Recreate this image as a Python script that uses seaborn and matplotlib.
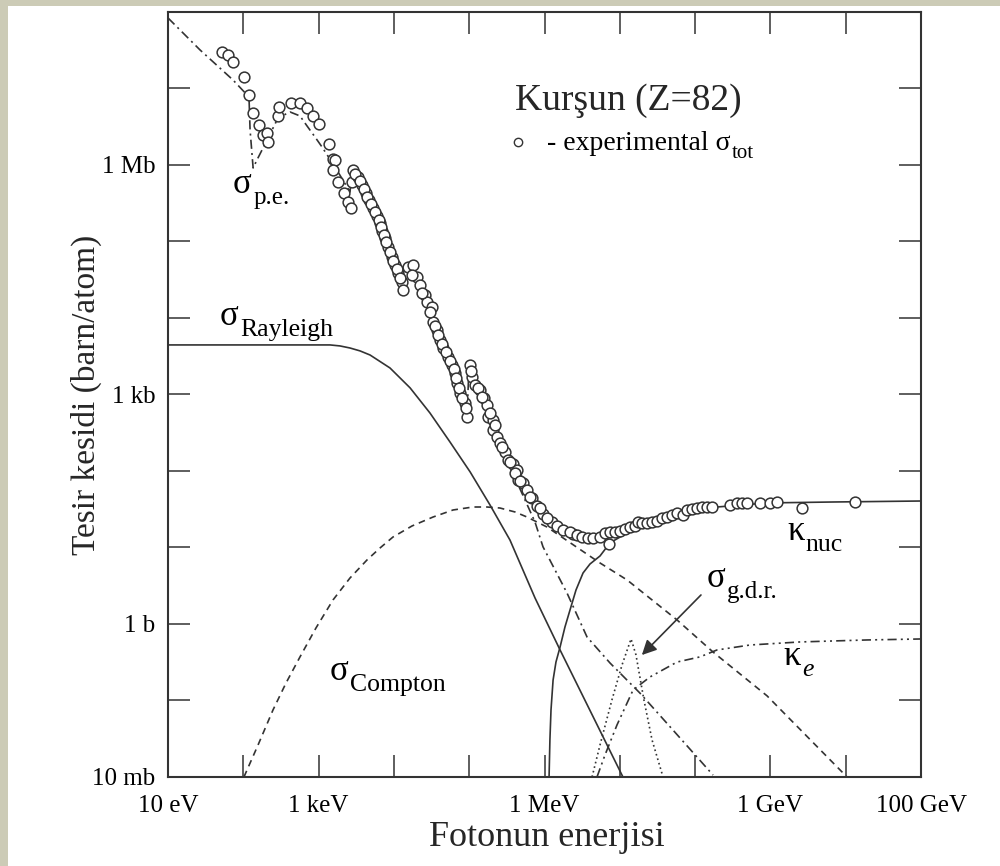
import numpy as np
import matplotlib
matplotlib.use("Agg")
import matplotlib.pyplot as plt
import matplotlib.ticker as mticker
from matplotlib.patches import Rectangle
import seaborn as sns

sns.set_theme(style="ticks")
plt.rcParams["font.family"] = ["Liberation Serif", "DejaVu Serif"]

INK = "#333333"

# --- experimental total cross section (circles), E in eV, sigma in barn ---
tot_E = [52, 63, 73, 102, 119, 135, 162, 183, 207, 213, 289, 298, 430, 566, 701,
         843, 1012, 1374, 1553, 1651, 1553, 1811, 2175, 2455, 2692, 2862, 2775,
         3335, 3767, 4256, 4667, 5272, 5966, 6536, 6950, 7621, 8356, 9441,
         1.035e4, 1.133e4, 1.281e4, 1.321e4, 1.538e4, 1.794e4, 2.027e4, 2.223e4,
         2.589e4, 2.754e4, 3.209e4, 3.306e4, 3.735e4, 4.09e4, 4.49e4, 5.23e4,
         5.91e4, 6.48e4, 6.89e4, 7.55e4, 8.80e4, 9.35e4, 1.025e5, 1.089e5,
         1.194e5, 1.39e5, 1.57e5, 1.72e5, 1.78e5, 2.07e5, 2.07e5, 2.34e5, 2.56e5,
         2.99e5, 3.27e5, 3.82e5, 4.31e5, 4.45e5, 5.18e5, 5.86e5, 6.82e5, 7.95e5,
         9.55e5, 1.26e6,
         3.04e3, 3.55e3, 4.01e3, 4.40e3, 4.97e3, 5.61e3, 6.34e3, 6.75e3, 7.40e3,
         7.85e3, 8.87e3, 9.73e3, 1.10e4, 1.21e4, 1.74e4, 2.36e4, 3.01e4, 3.51e4,
         3.85e4, 4.35e4, 4.92e4, 5.56e4, 6.28e4, 6.68e4, 7.32e4, 8.02e4, 9.08e4,
         1.06e5, 1.31e5, 1.48e5, 1.89e5, 2.20e5, 2.73e5, 3.48e5, 4.06e5, 4.73e5,
         6.41e5, 8.71e5, 1.08e6, 1.47e6, 2.39e6,
         1.76e6, 2.18e6, 2.70e6, 3.15e6, 3.78e6, 4.41e6, 5.46e6, 6.36e6, 7.19e6,
         7.41e6, 8.63e6, 1.01e7, 1.17e7, 1.37e7, 1.59e7, 1.75e7, 1.97e7, 2.30e7,
         2.68e7, 3.12e7, 3.63e7, 4.24e7, 4.93e7, 5.75e7, 6.91e7, 7.80e7, 9.10e7,
         1.06e8, 1.24e8, 1.44e8, 1.68e8, 2.91e8, 3.60e8, 4.20e8, 4.89e8, 7.27e8,
         9.88e8, 1.22e9, 2.63e9, 1.33e10]
tot_sigma = [3.0e7, 2.74e7, 2.22e7, 1.41e7, 8.22e6, 4.79e6, 3.33e6, 2.47e6, 2.62e6,
             2.0e6, 4.37e6, 5.73e6, 6.46e6, 6.46e6, 5.56e6, 4.37e6, 3.44e6, 1.88e6,
             1.20e6, 1.16e6, 8.61e5, 6.0e5, 4.31e5, 3.28e5, 2.74e5, 8.61e5, 6.0e5,
             6.97e5, 5.48e5, 4.31e5, 3.49e5, 2.74e5, 2.15e5, 1.75e5, 1.37e5, 1.11e5,
             8.47e4, 6.27e4, 4.93e4, 3.87e4, 2.96e4, 2.32e4, 4.64e4, 4.93e4, 3.44e4,
             2.70e4, 2.0e4, 1.62e4, 1.39e4, 8.87e3, 6.97e3, 5.15e3, 4.05e3, 3.09e3,
             2.43e3, 1.91e3, 1.41e3, 1.05e3, 774, 508, 2.43e3, 1.69e3, 1.33e3,
             1.15e3, 900, 729, 508, 464, 344, 278, 232, 177, 139, 124, 103, 76.3,
             69.7, 56.5, 44.4, 34.9, 27.4, 21.5,
             7.62e5, 6.18e5, 4.86e5, 3.82e5, 3.09e5, 2.43e5, 1.91e5, 1.55e5, 1.22e5,
             9.85e4, 7.29e4, 5.56e4, 4.37e4, 3.34e4, 3.65e4, 2.12e4, 1.20e4, 7.85e3,
             6.0e3, 4.57e3, 3.60e3, 2.74e3, 2.15e3, 1.64e3, 1.22e3, 900, 667,
             2.03e3, 1.22e3, 927, 573, 399, 206, 131, 94.2, 74.0,
             45.7, 32.8, 24.3, 19.1, 15.0,
             16.9, 16.0, 14.6, 13.7, 13.3, 13.3, 13.7, 15.5, 11.1, 16.0, 16.0, 16.4,
             17.5, 18.5, 19.1, 21.5, 20.9, 20.9, 21.5, 22.2, 24.3, 25.0, 26.6, 28.2,
             26.6, 30.9, 31.9, 32.8, 33.8, 33.8, 33.8, 35.9, 38.2, 38.2, 38.2, 38.2,
             38.2, 39.3, 32.8, 39.3]

# --- photoelectric ---
pe_E = [10, 26.6, 73, 119, 123, 135, 157, 207, 289, 417, 566, 701, 896, 1109, 1651,
        2612, 2780, 3335, 4256, 5272, 6536, 8356, 1.10e4, 1.28e4, 1.36e4, 1.79e4,
        2.22e4, 2.75e4, 3.31e4, 4.09e4, 5.23e4, 6.48e4, 7.55e4, 8.80e4, 9.35e4,
        9.94e4, 1.19e5, 1.57e5, 1.89e5, 2.34e5, 2.99e5, 4.06e5, 5.51e5, 7.48e5,
        9.55e5, 1.99e6, 3.67e6, 7.41e6, 1.85e7, 5.08e7, 1.73e8]
pe_sigma = [8.35e7, 3.19e7, 1.29e7, 7.74e6, 2.87e6, 9.14e5, 1.24e6, 2.12e6, 4.11e6,
            4.93e6, 4.37e6, 3.24e6, 2.32e6, 1.72e6, 9.42e5, 4.44e5, 8.10e5, 6.76e5,
            4.18e5, 2.66e5, 1.69e5, 8.22e4, 4.24e4, 2.47e4, 4.51e4, 4.79e4, 2.62e4,
            1.57e4, 9.42e3, 5.15e3, 3.00e3, 1.80e3, 1.02e3, 707, 493, 2.36e3, 1.29e3,
            847, 464, 254, 148, 81.0, 41.8, 21.5, 10.2, 2.54, 0.676, 0.309, 0.125,
            0.0411, 0.0106]

# --- Rayleigh (coherent) ---
ray_E = [10, 1.42e3, 1.92e3, 2.61e3, 3.55e3, 4.82e3, 8.87e3, 1.64e4, 3.01e4,
         5.56e4, 1.03e5, 1.89e5, 3.48e5, 7.48e5, 1.61e6, 1.10e7]
ray_sigma = [4.44e3, 4.44e3, 4.31e3, 4.05e3, 3.71e3, 3.28e3, 2.22e3, 1.22e3, 573,
             239, 97.0, 35.9, 12.5, 2.19, 0.457, 0.01]

# --- Compton (incoherent) ---
comp_E = [102, 157, 248, 369, 566, 923, 1553, 2612, 4395, 6536, 9727, 1.74e4,
          3.31e4, 6.10e4, 1.12e5, 1.72e5, 2.56e5, 4.06e5, 5.86e5, 1.08e6, 5.46e6,
          1.25e7, 5.75e7, 1.73e8, 9.02e8, 1.04e10]
comp_sigma = [0.01, 0.0262, 0.0752, 0.169, 0.371, 0.887, 2.06, 3.99, 6.87, 9.84,
              13.7, 19.1, 25.0, 30.9, 33.8, 33.8, 32.8, 29.1, 25.0, 18.5, 6.27,
              3.76, 1.13, 0.430, 0.115, 0.01]

# --- pair production, nuclear field ---
nuc_E = [1.15e6, 1.18e6, 1.22e6, 1.30e6, 1.42e6, 1.61e6, 1.87e6, 2.18e6, 2.62e6,
         3.25e6, 4.02e6, 5.46e6, 7.41e6, 1.01e7, 1.59e7, 2.52e7, 6.91e7, 1.95e8,
         9.02e8, 6.78e9, 1.03e11]
nuc_sigma = [0.01, 0.0305, 0.0752, 0.185, 0.318, 0.500, 0.914, 1.52, 2.78, 4.64,
             6.08, 7.74, 11.5, 13.7, 18.0, 21.5, 29.1, 33.8, 38.2, 39.3, 40.5]

# --- pair production, electron field ---
ke_E = [4.98e6, 6.36e6, 9.18e6, 1.50e7, 2.52e7, 5.75e7, 1.16e8, 1.95e8, 5.36e8,
        2.47e9, 1.92e10, 1.03e11]
ke_sigma = [0.01, 0.0194, 0.0479, 0.137, 0.203, 0.318, 0.371, 0.457, 0.531, 0.582,
            0.618, 0.637]

# --- giant dipole resonance ---
gdr_E = [4.28e6, 5.46e6, 7.87e6, 1.07e7, 1.41e7, 1.64e7, 2.09e7, 2.68e7, 3.75e7]
gdr_sigma = [0.01, 0.0262, 0.102, 0.291, 0.637, 0.394, 0.102, 0.0305, 0.01]

x_ticks = [1e1, 1e2, 1e3, 1e4, 1e5, 1e6, 1e7, 1e8, 1e9, 1e10, 1e11]
x_ticklabels = ["10 eV", "", "1 keV", "", "", "1 MeV", "", "", "1 GeV", "", "100 GeV"]
y_ticks = [1e-2, 1e-1, 1e0, 1e1, 1e2, 1e3, 1e4, 1e5, 1e6, 1e7, 1e8]
y_ticklabels = ["10 mb", "", "1 b", "", "", "1 kb", "", "", "1 Mb", "", ""]

fig = plt.figure(figsize=(10, 8.66), dpi=100, facecolor="#cccbb6")
fig.patches.append(Rectangle((0.008, 0), 0.992, 1 - 6 / 866, transform=fig.transFigure,
                             facecolor="white", edgecolor="none", zorder=-5))
ax = fig.add_axes([0.168, 0.1028, 0.753, 0.8834])
ax.set_facecolor("white")
ax.set_xscale("log")
ax.set_yscale("log")

lw = 1.2
sns.lineplot(x=pe_E, y=pe_sigma, ax=ax, sort=False, estimator=None, color=INK,
             lw=lw, linestyle=(0, (5.5, 2.5, 1.2, 2.5)))
sns.lineplot(x=ray_E, y=ray_sigma, ax=ax, sort=False, estimator=None, color=INK, lw=lw)
sns.lineplot(x=comp_E, y=comp_sigma, ax=ax, sort=False, estimator=None, color=INK,
             lw=lw, linestyle=(0, (4, 3)))
sns.lineplot(x=nuc_E, y=nuc_sigma, ax=ax, sort=False, estimator=None, color=INK, lw=lw)
sns.lineplot(x=ke_E, y=ke_sigma, ax=ax, sort=False, estimator=None, color=INK,
             lw=lw, linestyle=(0, (5.5, 2.5, 1.2, 2.5, 1.2, 2.5)))
sns.lineplot(x=gdr_E, y=gdr_sigma, ax=ax, sort=False, estimator=None, color=INK,
             lw=lw, linestyle=(0, (1, 1.8)))
sns.scatterplot(x=tot_E, y=tot_sigma, ax=ax, marker="o", s=60, color="white",
                edgecolor=INK, linewidth=1.1, zorder=5)

ax.set_xlim(1e1, 1e11)
ax.set_ylim(1e-2, 1e8)
ax.xaxis.set_major_locator(mticker.FixedLocator(x_ticks))
ax.xaxis.set_major_formatter(mticker.FixedFormatter(x_ticklabels))
ax.yaxis.set_major_locator(mticker.FixedLocator(y_ticks))
ax.yaxis.set_major_formatter(mticker.FixedFormatter(y_ticklabels))
ax.xaxis.set_minor_locator(mticker.NullLocator())
ax.yaxis.set_minor_locator(mticker.NullLocator())
ax.tick_params(which="major", direction="in", length=16, width=1.1, color=INK,
               top=True, right=True, labelsize=18, labelcolor="black")
ax.tick_params(axis="x", pad=13)
ax.tick_params(axis="y", pad=9)
for s in ax.spines.values():
    s.set_visible(True)
    s.set_linewidth(1.5)
    s.set_color(INK)

ax.set_xlabel("Fotonun enerjisi", fontsize=26)
ax.xaxis.set_label_coords(0.503, -0.057)
ax.set_ylabel("Tesir kesidi (barn/atom)", fontsize=24)
ax.yaxis.set_label_coords(-0.088, 0.5)


def sym_label(x, y, main, sub, size=25, subsize=18, drop=-6, style="normal"):
    # main symbol in data coords, subscript placed right after its bounding box
    t = ax.text(x, y, main, fontsize=size, color="black")
    ax.annotate(sub, xy=(1, 0), xycoords=t, xytext=(1, drop),
                textcoords="offset points", fontsize=subsize, style=style,
                va="bottom", ha="left", color="black")
    return t


# labels
ax.text(4.06e5, 5.24e6, "Kurşun (Z=82)", fontsize=27)
ax.plot([4.45e5], [2.0e6], marker="o", ms=6, mfc="white", mec=INK, mew=1.0)
sym_label(1.08e6, 1.57e6, "- experimental σ", "tot", size=20, subsize=15, drop=-5)
sym_label(73, 4.3e5, "σ", "p.e.", subsize=18)
sym_label(49, 8.1e3, "σ", "Rayleigh", subsize=18.5)
sym_label(1.42e3, 0.185, "σ", "Compton", subsize=18.5)
sym_label(1.66e9, 12.5, "κ", "nuc", subsize=18.5)
sym_label(1.44e8, 3.05, "σ", "g.d.r.", subsize=18)
sym_label(1.47e9, 0.29, "κ", "e", subsize=18.5, style="italic")
ax.annotate("", xy=(1.85e7, 0.37), xytext=(1.27e8, 2.54),
            arrowprops=dict(arrowstyle="-|>", color=INK, lw=1.2, mutation_scale=22))

fig.savefig("out.png", dpi=100, facecolor=fig.get_facecolor())
